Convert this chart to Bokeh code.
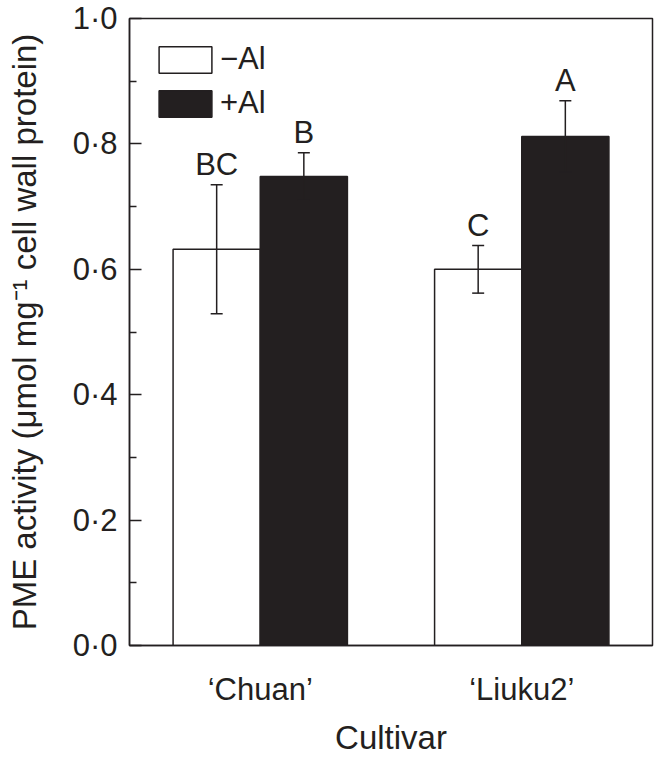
from bokeh.plotting import figure
from bokeh.models import (ColumnDataSource, FactorRange, Range1d, Whisker, FixedTicker,
                          Legend, LegendItem, TeeHead)
from bokeh.transform import dodge
from bokeh.core.properties import value
from bokeh.embed import file_html
from bokeh.resources import INLINE

# ---- data ----
cultivars = ["\u2018Chuan\u2019", "\u2018Liuku2\u2019"]
minus_al = [0.632, 0.600]
minus_al_err = [0.103, 0.038]
plus_al = [0.748, 0.812]
plus_al_err = [0.038, 0.057]
minus_letters = ["BC", "C"]
plus_letters = ["B", "A"]
y_ticks = [0.0, 0.2, 0.4, 0.6, 0.8, 1.0]
y_tick_labels = ["0\u00b70", "0\u00b72", "0\u00b74", "0\u00b76", "0\u00b78", "1\u00b70"]
y_minor = [0.1, 0.3, 0.5, 0.7, 0.9]

INK = "#231f20"
FONT = "Liberation Sans"
TICK_FS = "31px"
LABEL_FS = "33px"
TEXT_FS = "31px"

src_m = ColumnDataSource(dict(
    cultivar=cultivars, val=minus_al,
    lo=[v - e for v, e in zip(minus_al, minus_al_err)],
    hi=[v + e for v, e in zip(minus_al, minus_al_err)],
    letter=minus_letters))
src_p = ColumnDataSource(dict(
    cultivar=cultivars, val=plus_al,
    lo=[v - e for v, e in zip(plus_al, plus_al_err)],
    hi=[v + e for v, e in zip(plus_al, plus_al_err)],
    letter=plus_letters))

p = figure(width=655, height=758, output_backend="svg", toolbar_location=None,
           x_range=FactorRange(*cultivars, range_padding=0),
           y_range=Range1d(0, 1),
           min_border_top=18, min_border_right=3, min_border_left=129, min_border_bottom=112)

p.outline_line_color = INK
p.outline_line_width = 1.5
p.xgrid.visible = False
p.ygrid.visible = False
p.background_fill_color = "white"
p.border_fill_color = "white"

off = 1.0 / 6
bw = 1.0 / 3
r_m = p.vbar(x=dodge("cultivar", -off, range=p.x_range), top="val", width=bw, source=src_m,
             fill_color="white", line_color=INK, line_width=1.5)
r_p = p.vbar(x=dodge("cultivar", off, range=p.x_range), top="val", width=bw, source=src_p,
             fill_color=INK, line_color=INK, line_width=1.5)

for src, o in ((src_m, -off), (src_p, off)):
    w = Whisker(base=dodge("cultivar", o, range=p.x_range), upper="hi", lower="lo", source=src,
                line_color=INK, line_width=1.5, level="annotation",
                upper_head=TeeHead(size=12, line_color=INK, line_width=1.5),
                lower_head=TeeHead(size=12, line_color=INK, line_width=1.5))
    p.add_layout(w)
    p.text(x=dodge("cultivar", o, range=p.x_range), y="hi", text="letter", source=src,
           text_align="center", text_baseline="alphabetic", y_offset=-20,
           text_font=value(FONT), text_font_size=TEXT_FS, text_color=INK)

# axes
yax = p.yaxis[0]
yax.ticker = FixedTicker(ticks=y_ticks, minor_ticks=y_minor)
yax.major_label_overrides = {t: l for t, l in zip(y_ticks, y_tick_labels)}
yax.major_tick_in = 12
yax.major_tick_out = 0
yax.minor_tick_in = 7
yax.minor_tick_out = 0
yax.major_label_standoff = 12
yax.axis_label = "PME activity (\u03bcmol mg\u207b\u00b9 cell wall protein)"
yax.axis_label_standoff = 27

xax = p.xaxis[0]
xax.major_label_standoff = 20
xax.axis_label = "Cultivar"
xax.axis_label_standoff = 9

for ax in (xax, yax):
    ax.axis_line_color = INK
    ax.axis_line_width = 1.5
    ax.major_tick_line_color = INK if ax is yax else None
    ax.major_tick_line_width = 1.5
    ax.minor_tick_line_width = 1.5
    ax.minor_tick_line_color = INK if ax is yax else None
    ax.major_label_text_font = FONT
    ax.major_label_text_font_size = TICK_FS
    ax.major_label_text_color = INK
    ax.axis_label_text_font = FONT
    ax.axis_label_text_font_size = LABEL_FS
    ax.axis_label_text_font_style = "normal"
    ax.axis_label_text_color = INK

legend = Legend(items=[LegendItem(label="\u2212Al", renderers=[r_m]),
                       LegendItem(label="+Al", renderers=[r_p])],
                location="top_left", margin=23, padding=0, spacing=8,
                glyph_width=66, glyph_height=33, label_standoff=2,
                label_text_font=FONT, label_text_font_size=TEXT_FS, label_text_color=INK,
                border_line_color=None, background_fill_alpha=0)
p.add_layout(legend)

open("out.html", "w").write(file_html(p, INLINE))
